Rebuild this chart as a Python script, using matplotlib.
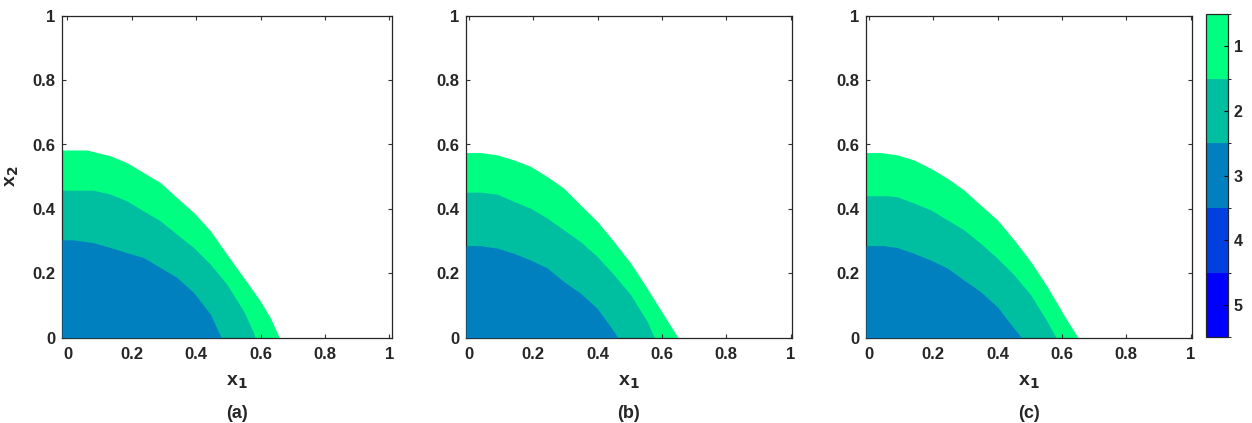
import numpy as np
import matplotlib.pyplot as plt
from matplotlib.colors import ListedColormap, BoundaryNorm
from matplotlib.cm import ScalarMappable

# boundary curves (x1, x2) of each region
# level 1 = outer (green), level 2 = middle (teal), level 3 = inner (blue)
a_x1_l1 = [-0.017, 0.06, 0.133, 0.184, 0.236, 0.288, 0.34, 0.392, 0.444, 0.495, 0.547, 0.599, 0.63, 0.658]
a_x2_l1 = [0.583, 0.583, 0.565, 0.544, 0.513, 0.482, 0.435, 0.389, 0.332, 0.259, 0.187, 0.114, 0.062, 0]
a_x1_l2 = [-0.017, 0.081, 0.133, 0.184, 0.236, 0.288, 0.34, 0.392, 0.444, 0.495, 0.547, 0.578, 0.582]
a_x2_l2 = [0.458, 0.458, 0.446, 0.425, 0.394, 0.363, 0.321, 0.28, 0.228, 0.166, 0.083, 0.016, 0]
a_x1_l3 = [-0.017, 0.019, 0.081, 0.133, 0.184, 0.236, 0.288, 0.34, 0.392, 0.444, 0.475, 0.478]
a_x2_l3 = [0.304, 0.304, 0.295, 0.28, 0.264, 0.249, 0.218, 0.187, 0.14, 0.073, 0.005, 0]

b_x1_l1 = [-0.009, 0.036, 0.088, 0.14, 0.192, 0.244, 0.295, 0.347, 0.399, 0.451, 0.503, 0.554, 0.606, 0.648, 0.651]
b_x2_l1 = [0.575, 0.575, 0.568, 0.552, 0.532, 0.5, 0.464, 0.412, 0.361, 0.298, 0.231, 0.153, 0.07, 0.003, 0]
b_x1_l2 = [-0.009, 0.036, 0.088, 0.14, 0.192, 0.244, 0.295, 0.347, 0.399, 0.451, 0.503, 0.554, 0.575, 0.578]
b_x2_l2 = [0.452, 0.452, 0.446, 0.423, 0.402, 0.371, 0.335, 0.298, 0.252, 0.195, 0.133, 0.05, 0.003, 0]
b_x1_l3 = [-0.009, 0.036, 0.088, 0.14, 0.192, 0.244, 0.295, 0.347, 0.399, 0.44, 0.461, 0.464]
b_x2_l3 = [0.286, 0.286, 0.278, 0.262, 0.241, 0.216, 0.174, 0.138, 0.091, 0.034, 0.003, 0]

c_x1_l1 = [-0.009, 0.036, 0.088, 0.14, 0.192, 0.244, 0.295, 0.347, 0.399, 0.451, 0.503, 0.554, 0.606, 0.648, 0.651]
c_x2_l1 = [0.575, 0.575, 0.568, 0.552, 0.526, 0.495, 0.459, 0.412, 0.366, 0.304, 0.236, 0.159, 0.07, 0.003, 0]
c_x1_l2 = [-0.009, 0.057, 0.088, 0.14, 0.192, 0.244, 0.295, 0.347, 0.399, 0.451, 0.503, 0.554, 0.58, 0.583]
c_x2_l2 = [0.441, 0.441, 0.438, 0.418, 0.397, 0.366, 0.335, 0.293, 0.247, 0.195, 0.133, 0.05, 0.003, 0]
c_x1_l3 = [-0.009, 0.047, 0.088, 0.14, 0.192, 0.244, 0.295, 0.347, 0.399, 0.451, 0.472, 0.475]
c_x2_l3 = [0.286, 0.286, 0.28, 0.262, 0.241, 0.216, 0.179, 0.143, 0.096, 0.029, 0.003, 0]

levels = [1, 2, 3, 4, 5]
level_colors = ['#00FF80', '#00BFA0', '#0080BF', '#0040DF', '#0000FF']
panel_labels = ['(a)', '(b)', '(c)']

plt.rcParams['font.family'] = ['Liberation Sans', 'DejaVu Sans']
plt.rcParams['font.weight'] = 'bold'

cmap = ListedColormap(level_colors)
norm = BoundaryNorm(np.arange(0.5, 6.5, 1), cmap.N)

panels = [
    [(a_x1_l1, a_x2_l1), (a_x1_l2, a_x2_l2), (a_x1_l3, a_x2_l3)],
    [(b_x1_l1, b_x2_l1), (b_x1_l2, b_x2_l2), (b_x1_l3, b_x2_l3)],
    [(c_x1_l1, c_x2_l1), (c_x1_l2, c_x2_l2), (c_x1_l3, c_x2_l3)],
]

W, H = 1252, 423
fig = plt.figure(figsize=(W / 100, H / 100), dpi=100)

# axes boxes in pixels: left, right, top, bottom
boxes = [(62, 391.7, 15.7, 337.7), (466, 791.7, 15.7, 337.7), (866, 1191.7, 15.7, 337.7)]
xlims = [(-0.017, 1.007), (-0.009, 1.003), (-0.009, 1.003)]
xlabel_x = [0.53, 0.50, 0.50]
text_col = '#262626'

for i, (box, regions) in enumerate(zip(boxes, panels)):
    l, r, t, b = box
    ax = fig.add_axes([l / W, (H - b) / H, (r - l) / W, (b - t) / H])
    for lev, (xs, ys) in zip(levels, regions):
        ax.fill_between(xs, 0, ys, color=cmap(norm(lev)), linewidth=0, zorder=lev)
    ax.set_xlim(*xlims[i])
    ax.set_ylim(0, 1)
    ax.set_xticks([0, 0.2, 0.4, 0.6, 0.8, 1])
    ax.set_xticklabels(['0', '0.2', '0.4', '0.6', '0.8', '1'])
    ax.set_yticks([0, 0.2, 0.4, 0.6, 0.8, 1])
    ax.set_yticklabels(['0', '0.2', '0.4', '0.6', '0.8', '1'])
    ax.tick_params(direction='in', length=3, width=0.8, color='#333333',
                   top=True, right=True, labelsize=12, labelcolor=text_col)
    ax.tick_params(axis='x', pad=7)
    ax.tick_params(axis='y', pad=5)
    for s in ax.spines.values():
        s.set_color(text_col)
        s.set_linewidth(0.9)
    ax.set_xlabel('x$_\\mathbf{1}$', fontsize=14, fontweight='bold', color=text_col)
    ax.xaxis.set_label_coords(xlabel_x[i], -0.112)
    if i == 0:
        ax.set_ylabel('x$_\\mathbf{2}$', fontsize=14, fontweight='bold', color=text_col)
        ax.yaxis.set_label_coords(-0.125, 0.5)
    ax.text(xlabel_x[i], -0.234, panel_labels[i], transform=ax.transAxes,
            ha='center', va='center', fontsize=13, fontweight='bold', color=text_col)

cax = fig.add_axes([1206 / W, (H - 337.3) / H, 22.3 / W, (337.3 - 14) / H])
sm = ScalarMappable(norm=norm, cmap=cmap)
cb = fig.colorbar(sm, cax=cax, ticks=levels)
cb.ax.invert_yaxis()
cb.ax.tick_params(direction='in', length=3, width=0.8, labelsize=11.5, labelcolor=text_col, pad=4)
cb.outline.set_edgecolor(text_col)
cb.outline.set_linewidth(0.9)

plt.savefig('out.png', dpi=100)
